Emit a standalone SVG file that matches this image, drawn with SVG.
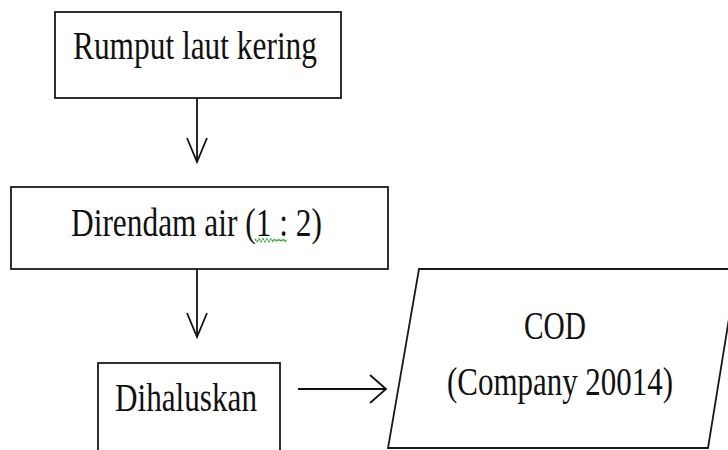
<svg xmlns="http://www.w3.org/2000/svg" width="728" height="450" viewBox="0 0 728 450">
  <style>
    .box { fill: #ffffff; stroke: #1a1a1a; stroke-width: 1.8; }
    .lbl { font-family: "Liberation Serif", "Times New Roman", serif; font-size: 40px; fill: #111111; }
    .wire { fill: none; stroke: #111111; stroke-width: 1.8; }
    .head { fill: none; stroke: #111111; stroke-width: 1.8; stroke-linejoin: miter; }
  </style>
  <rect width="728" height="450" fill="#ffffff"/>

  <g id="node-rumput">
    <rect class="box" x="55" y="12" width="286" height="86"/>
    <text class="lbl" x="73" y="59" textLength="244" lengthAdjust="spacingAndGlyphs">Rumput laut kering</text>
  </g>

  <g id="node-direndam">
    <rect class="box" x="11" y="187" width="377" height="82"/>
    <text class="lbl" x="71" y="236" textLength="251" lengthAdjust="spacingAndGlyphs">Direndam air (1 : 2)</text>
    <!-- grammar-check squiggle under "1 :" -->
    <path d="M255 239 l2 2.5 l2 -2.5 l2 2.5 l2 -2.5 l2 2.5 l2 -2.5 l2 2.5 l2 -2.5 l2 2.5 l2 -2.5 l2 2.5 l2 -2.5 l2 2.5 l2 -2.5 l2 2.5 l2 -2.5" fill="none" stroke="#35a83c" stroke-width="1.5" stroke-dasharray="2 1"/>
  </g>

  <g id="node-dihaluskan">
    <rect class="box" x="98" y="363" width="182" height="100"/>
    <text class="lbl" x="115" y="411" textLength="142" lengthAdjust="spacingAndGlyphs">Dihaluskan</text>
  </g>

  <g id="node-cod">
    <polygon class="box" points="419,269 737,269 708,448 388,448"/>
    <text class="lbl" x="524" y="339" textLength="62" lengthAdjust="spacingAndGlyphs">COD</text>
    <text class="lbl" x="447" y="395" textLength="226" lengthAdjust="spacingAndGlyphs">(Company 20014)</text>
  </g>

  <g id="connectors">
    <line class="wire" x1="197" y1="98" x2="197" y2="162"/>
    <polyline class="head" points="187,138 197,162 207,138"/>
    <line class="wire" x1="197" y1="269" x2="197" y2="337"/>
    <polyline class="head" points="187,313 197,337 207,313"/>
    <line class="wire" x1="298" y1="389" x2="386" y2="389"/>
    <polyline class="head" points="370,375 386,389 370,403"/>
  </g>
</svg>
